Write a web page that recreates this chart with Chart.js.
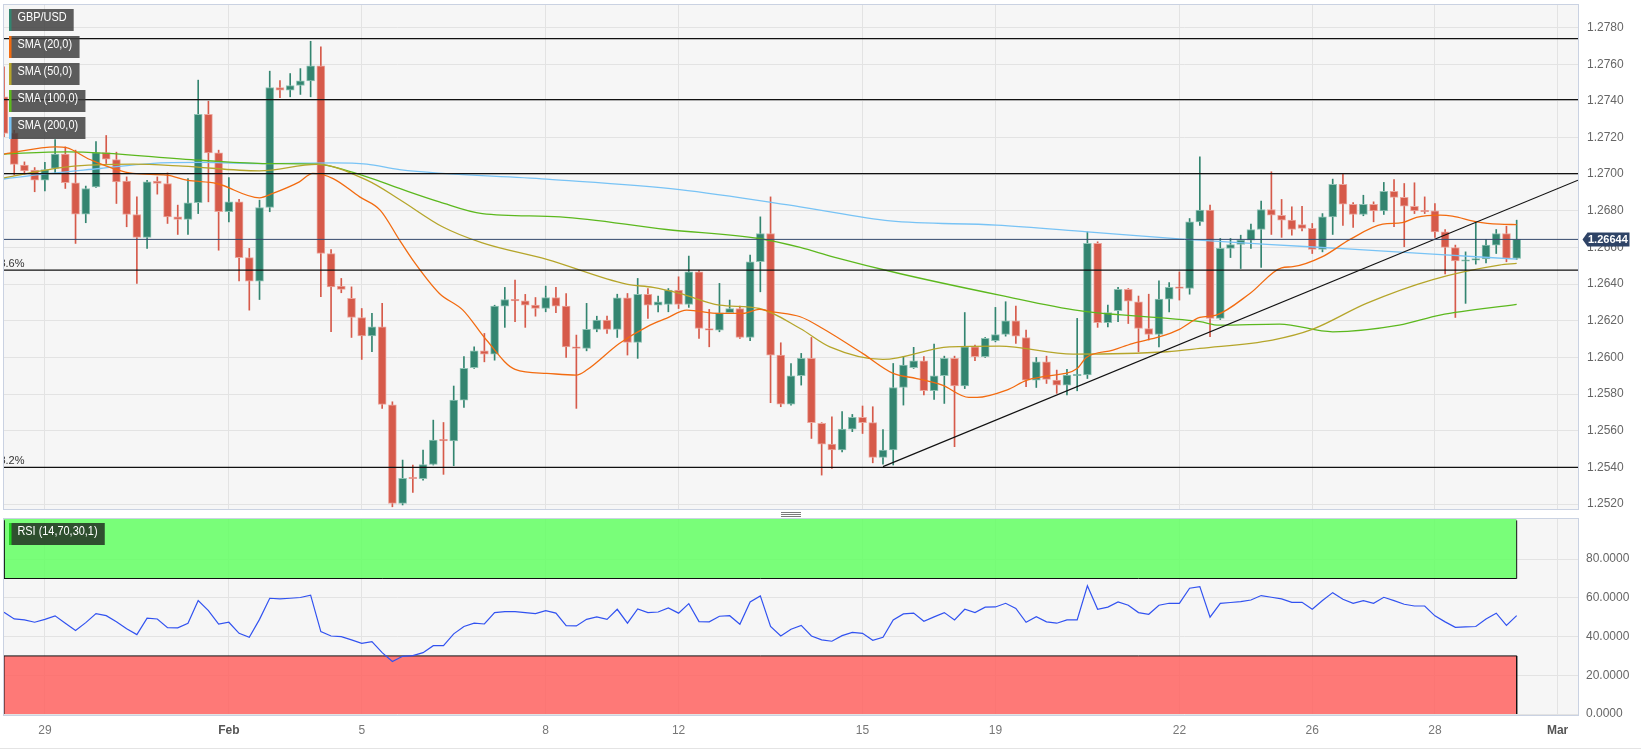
<!DOCTYPE html>
<html>
<head>
<meta charset="utf-8">
<script src="https://cdn.jsdelivr.net/npm/chart.js@4/dist/chart.umd.min.js"></script>
<style>
  body { margin: 0; background: #fff; }
  #wrap { position: relative; width: 1641px; height: 752px; overflow: hidden; background: #fff; }
  canvas { position: absolute; left: 0; }
  .lg { position: absolute; left: 9px; height: 22px; line-height: 22px; padding: 0 8.5px 0 7px;
        background: rgba(62,62,62,0.84); color: #fff;
        font: 13px "Liberation Sans", Arial, sans-serif;
        border-left: 3.5px solid #338570; white-space: nowrap;
        transform: scaleX(0.84); transform-origin: 0 0; }
  .hd { position: absolute; left: 781px; width: 20px; height: 1px; background: #7a7a7a; }
</style>
</head>
<body>
<div id="wrap">
  <canvas id="main" width="1641" height="512" style="top:0"></canvas>
  <canvas id="rsi" width="1641" height="240" style="top:512px"></canvas>
  <div class="lg" style="top:9px;border-left-color:#338570">GBP/USD</div>
  <div class="lg" style="top:36px;border-left-color:#f26b10">SMA (20,0)</div>
  <div class="lg" style="top:63px;border-left-color:#b5a52a">SMA (50,0)</div>
  <div class="lg" style="top:90px;border-left-color:#5cb81e">SMA (100,0)</div>
  <div class="lg" style="top:117px;border-left-color:#78c3f5">SMA (200,0)</div>
  <div class="lg" style="top:523px;border-left-color:#1fd21f;background:rgba(30,40,30,0.82)">RSI (14,70,30,1)</div>
  <div class="hd" style="top:512px"></div>
  <div class="hd" style="top:514px"></div>
  <div class="hd" style="top:516px"></div>
  <div style="position:absolute;left:0;top:748px;width:1641px;height:1px;background:#e4e4e4"></div>
</div>
<script>
// 4h candles, index 0 = first visible bar
const opens = [1.27422,1.27225,1.27049,1.27022,1.26967,1.27031,1.27109,1.26953,1.26782,1.26931,
  1.27118,1.27080,1.26962,1.26780,1.26655,1.26962,1.26949,1.26767,1.26753,1.26844,
  1.27327,1.27116,1.26795,1.26849,1.26545,1.26416,1.26818,1.27473,1.27458,1.27484,
  1.27509,1.27591,1.26567,1.26389,1.26322,1.26218,1.26118,1.26167,1.25742,1.25204,
  1.25345,1.25338,1.25416,1.25550,1.25545,1.25767,1.25944,1.26036,1.26018,1.26280,
  1.26316,1.26309,1.26285,1.26267,1.26327,1.26280,1.26058,1.26049,1.26153,1.26204,
  1.26153,1.26325,1.26082,1.26344,1.26285,1.26289,1.26367,1.26289,1.26467,1.26158,
  1.26149,1.26244,1.26267,1.26109,1.26522,1.26676,1.26013,1.25745,1.25900,1.25995,
  1.25640,1.25527,1.25495,1.25609,1.25673,1.25644,1.25455,1.25495,1.25836,1.25944,
  1.25982,1.25818,1.25900,1.25995,1.25844,1.26058,1.26004,1.26091,1.26125,1.26200,
  1.26109,1.25876,1.25976,1.25876,1.25849,1.25900,1.25904,1.26622,1.26189,1.26255,
  1.26371,1.26304,1.26158,1.26125,1.26318,1.26385,1.26376,1.26740,1.26804,1.26213,
  1.26595,1.26616,1.26640,1.26698,1.26807,1.26776,1.26749,1.26725,1.26704,1.26589,
  1.26767,1.26944,1.26836,1.26780,1.26835,1.26800,1.26907,1.26873,1.26825,1.26800,
  1.26800,1.26685,1.26600,1.26525,1.26531,1.26538,1.26613,1.26676,1.26540];
const highs = [1.27585,1.27240,1.27067,1.27036,1.27064,1.27189,1.27149,1.27131,1.26935,1.27178,
  1.27211,1.27120,1.26985,1.26876,1.26967,1.26985,1.27007,1.26831,1.26976,1.27513,
  1.27398,1.27131,1.26982,1.26862,1.26595,1.26858,1.27562,1.27511,1.27549,1.27576,
  1.27725,1.27695,1.26589,1.26431,1.26385,1.26267,1.26240,1.26295,1.25758,1.25440,
  1.25413,1.25495,1.25658,1.25645,1.25844,1.26004,1.26058,1.26131,1.26285,1.26382,
  1.26422,1.26344,1.26327,1.26389,1.26382,1.26349,1.26122,1.26295,1.26225,1.26225,
  1.26345,1.26349,1.26431,1.26376,1.26335,1.26376,1.26440,1.26553,1.26475,1.26262,
  1.26404,1.26313,1.26280,1.26558,1.26767,1.26876,1.26080,1.25967,1.26022,1.26109,
  1.25644,1.25676,1.25704,1.25689,1.25735,1.25731,1.25607,1.25967,1.26004,1.26055,
  1.26004,1.26073,1.26007,1.26007,1.26245,1.26067,1.26109,1.26273,1.26304,1.26280,
  1.26149,1.26000,1.26007,1.25931,1.25935,1.26213,1.26685,1.26631,1.26285,1.26382,
  1.26376,1.26335,1.26345,1.26418,1.26409,1.26467,1.26758,1.27095,1.26831,1.26649,
  1.26649,1.26667,1.26727,1.26853,1.27013,1.26862,1.26822,1.26825,1.26731,1.26785,
  1.26973,1.27000,1.26845,1.26885,1.26849,1.26955,1.26971,1.26949,1.26953,1.26876,
  1.26840,1.26698,1.26613,1.26576,1.26740,1.26644,1.26698,1.26716,1.26749];
const lows = [1.27204,1.26995,1.27000,1.26904,1.26909,1.27007,1.26922,1.26622,1.26735,1.26927,
  1.27058,1.26840,1.26713,1.26404,1.26595,1.26891,1.26731,1.26671,1.26671,1.26785,
  1.26849,1.26585,1.26740,1.26418,1.26258,1.26316,1.26795,1.27418,1.27422,1.27435,
  1.27422,1.26331,1.26140,1.26353,1.26109,1.25989,1.26031,1.25722,1.25185,1.25195,
  1.25264,1.25330,1.25413,1.25362,1.25409,1.25727,1.25940,1.25976,1.25985,1.26164,
  1.26195,1.26164,1.26225,1.26249,1.26244,1.26000,1.25722,1.26036,1.26140,1.26131,
  1.26109,1.26013,1.25995,1.26213,1.26249,1.26249,1.26267,1.26273,1.26104,1.26058,
  1.26140,1.26240,1.26104,1.26091,1.26358,1.25753,1.25731,1.25740,1.25849,1.25558,
  1.25358,1.25395,1.25485,1.25595,1.25585,1.25425,1.25418,1.25413,1.25740,1.25940,
  1.25795,1.25771,1.25749,1.25513,1.25830,1.25982,1.26000,1.26085,1.26116,1.26076,
  1.25840,1.25836,1.25858,1.25804,1.25795,1.25818,1.25885,1.26164,1.26167,1.26195,
  1.26185,1.26031,1.26095,1.26058,1.26249,1.26313,1.26345,1.26720,1.26113,1.26207,
  1.26545,1.26485,1.26595,1.26491,1.26671,1.26655,1.26667,1.26690,1.26567,1.26576,
  1.26671,1.26720,1.26709,1.26773,1.26740,1.26780,1.26713,1.26604,1.26785,1.26785,
  1.26655,1.26455,1.26218,1.26295,1.26509,1.26516,1.26567,1.26522,1.26535];
const closes = [1.27222,1.27053,1.27018,1.26967,1.27025,1.27109,1.26953,1.26782,1.26922,1.27118,
  1.27082,1.26958,1.26780,1.26655,1.26958,1.26949,1.26767,1.26753,1.26844,1.27327,
  1.27116,1.26795,1.26849,1.26545,1.26416,1.26818,1.27473,1.27458,1.27484,1.27509,
  1.27591,1.26567,1.26385,1.26371,1.26218,1.26118,1.26167,1.25744,1.25204,1.25340,
  1.25338,1.25416,1.25549,1.25545,1.25767,1.25940,1.26036,1.26018,1.26280,1.26316,
  1.26309,1.26285,1.26267,1.26327,1.26280,1.26058,1.26049,1.26153,1.26204,1.26153,
  1.26325,1.26082,1.26344,1.26285,1.26304,1.26367,1.26289,1.26467,1.26158,1.26149,
  1.26244,1.26267,1.26109,1.26522,1.26676,1.26013,1.25745,1.25900,1.25995,1.25644,
  1.25527,1.25495,1.25609,1.25673,1.25644,1.25455,1.25495,1.25836,1.25958,1.25982,
  1.25818,1.25900,1.25995,1.25844,1.26058,1.26004,1.26104,1.26125,1.26200,1.26116,
  1.25876,1.25976,1.25880,1.25849,1.25904,1.25904,1.26622,1.26189,1.26245,1.26371,
  1.26307,1.26158,1.26125,1.26318,1.26382,1.26376,1.26740,1.26804,1.26213,1.26595,
  1.26616,1.26640,1.26698,1.26807,1.26776,1.26749,1.26698,1.26704,1.26589,1.26767,
  1.26944,1.26836,1.26780,1.26835,1.26800,1.26907,1.26873,1.26825,1.26800,1.26795,
  1.26685,1.26600,1.26527,1.26530,1.26538,1.26613,1.26676,1.26540,1.26644];

// moving averages at bar positions
const sma20At = [-0.1,5.1,6.1,8.4,12.6,15.9,17.9,20.8,25,26.3,28.9,30.2,32.2,34.8,36.8,38.7,40,42.6,44.9,47.2,
  50,53.1,56,57,60.2,62.9,64.8,66.8,70,72.3,73.9,75.2,77.9,80.1,84,87,89.3,91.8,94.4,95.2,
  98.1,100.1,102,105,105.9,108.5,110.4,113.1,115,117,118.6,121.9,125,126.1,129,131.7,134.9,136.8,138.2,140.5,
  141.7,144.1,146.3,148];
const sma20 = [1.27109,1.27149,1.27145,1.27080,1.27004,1.26995,1.26967,1.26949,1.26871,1.26895,1.26958,1.27004,1.26976,1.26876,1.26804,1.26640,1.26531,1.26349,1.26258,1.26095,
  1.25935,1.25913,1.25904,1.25931,1.26076,1.26167,1.26213,1.26258,1.26240,1.26240,1.26262,1.26249,1.26222,1.26158,1.26022,1.25913,1.25885,1.25849,1.25782,1.25782,
  1.25822,1.25876,1.25898,1.25940,1.26000,1.26040,1.26076,1.26113,1.26153,1.26218,1.26231,1.26349,1.26489,1.26495,1.26550,1.26644,1.26727,1.26735,1.26764,1.26776,
  1.26771,1.26740,1.26727,1.26725];
const sma50At = [-0.4,6.2,12.6,17.5,25,30.6,35.5,38.7,42.9,46.8,53.1,60.9,63.5,66.1,70,73.9,77.9,80.8,86,92.5,
  97.4,104.6,113.8,117,124.1,128,133.3,139.8,146.3,148];
const sma50 = [1.26976,1.27040,1.27055,1.27044,1.27018,1.27053,1.26967,1.26862,1.26713,1.26625,1.26535,1.26400,1.26382,1.26349,1.26285,1.26267,1.26158,1.26058,1.25989,1.26058,
  1.26062,1.26018,1.26031,1.26049,1.26095,1.26153,1.26295,1.26425,1.26504,1.26513];
const sma100At = [-0.4,6.2,19.2,25.7,30.6,35.5,38.7,42.6,46.8,54.4,64.8,73.9,77.9,81.1,87.6,97.4,105.2,117,118.9,124.8,
  130,136.5,140.5,148];
const sma100 = [1.27109,1.27122,1.27076,1.27058,1.27055,1.26985,1.26922,1.26849,1.26785,1.26767,1.26698,1.26649,1.26600,1.26549,1.26458,1.26340,1.26255,1.26195,1.26176,1.26182,
  1.26140,1.26176,1.26231,1.26289];
const sma200At = [-0.4,4.5,9.4,14.3,19.2,25.7,32.2,35.5,38.7,53.1,66.1,77.9,86.7,97.1,106,115.3,127.7,139.8,148];
const sma200 = [1.26971,1.27004,1.27031,1.27058,1.27064,1.27058,1.27062,1.27055,1.27025,1.26973,1.26916,1.26822,1.26745,1.26722,1.26685,1.26645,1.26604,1.26564,1.26536];

const levels = [1.2774, 1.27407, 1.27003, 1.26476, 1.2540];
const fibLevels = [1.26476, 1.2540];
const fibLabels = ['23.6%', '38.2%'];
const lastPrice = 1.26644;
const trendAt = [86, 154];
const trend = [1.25404, 1.26967];

const rsi = [52.6,49.1,48.6,47.4,48.9,50.7,46.9,43.1,47.2,51.9,
  50.8,47.7,44.0,41.0,49.5,49.1,44.6,44.5,46.9,58.6,
  53.4,46.4,47.4,41.7,39.6,48.9,59.8,59.5,59.8,60.2,
  61.4,42.6,40.3,40.0,38.3,36.5,37.4,31.7,27.1,29.8,
  30.2,31.7,35.3,35.3,41.4,45.2,46.9,46.5,52.4,52.9,
  52.9,52.4,51.9,53.4,52.1,45.7,45.5,48.9,50.2,48.9,
  54.1,46.9,54.3,52.4,52.7,54.8,52.1,57.0,47.7,47.6,
  50.5,50.8,46.4,57.9,61.0,45.2,40.3,43.8,45.8,40.3,
  38.3,37.6,40.5,42.2,41.7,38.1,39.6,48.6,51.7,52.1,
  47.9,50.2,52.4,48.6,54.1,52.4,55.2,55.3,57.2,54.5,
  47.4,50.3,47.6,46.9,48.6,48.6,66.2,54.1,55.2,57.9,
  56.2,52.4,51.5,56.2,57.2,57.2,65.0,65.8,50.0,57.2,
  57.6,58.1,58.9,61.2,60.3,59.5,57.7,57.7,54.1,58.6,
  62.7,59.3,57.2,58.6,57.2,60.3,58.6,56.7,55.8,55.8,
  50.7,47.6,44.8,45.0,45.2,49.1,52.1,45.8,50.8];
const rsiHigh = 70, rsiLow = 30;

const dayIdx = [4, 22, 35, 53, 66, 84, 97, 115, 128, 140, 152];
const dayLabels = ['29', 'Feb', '5', '8', '12', '15', '19', '22', '26', '28', 'Mar'];
const priceTicks = [1.2520,1.2540,1.2560,1.2580,1.2600,1.2620,1.2640,1.2660,1.2680,1.2700,1.2720,1.2740,1.2760,1.2780];
const rsiTicks = [0, 20, 40, 60, 80];

const GREEN = '#338570', RED = '#d65a4a';
const FONT = '"Liberation Sans", Arial, sans-serif';
Chart.defaults.font.family = FONT;
Chart.defaults.font.size = 12;

const lastIdx = closes.length - 1;
const up = i => closes[i] >= opens[i];
const pts = (xs, ys) => xs.map((x, k) => ({ x: x, y: ys[k] }));

const panel = {
  id: 'panel',
  beforeDraw(chart) {
    const a = chart.chartArea, c = chart.ctx;
    c.save();
    c.fillStyle = '#f6f6f6';
    c.fillRect(a.left, a.top, a.right - a.left, a.bottom - a.top);
    c.restore();
  },
  afterDraw(chart) {
    const a = chart.chartArea, c = chart.ctx;
    c.save();
    c.strokeStyle = '#cad2e2';
    c.lineWidth = 1;
    c.strokeRect(Math.round(a.left) - 0.5, Math.round(a.top) - 0.5, Math.round(a.right - a.left) + 1, Math.round(a.bottom - a.top) + 1);
    c.restore();
  }
};

const marks = {
  id: 'marks',
  afterDraw(chart) {
    const a = chart.chartArea, c = chart.ctx, ys = chart.scales.y;
    c.save();
    c.beginPath();
    c.rect(a.left, a.top, a.right - a.left, a.bottom - a.top);
    c.clip();
    c.fillStyle = '#333';
    c.font = '11px ' + FONT;
    c.textAlign = 'right';
    c.textBaseline = 'bottom';
    fibLevels.forEach((v, k) => c.fillText(fibLabels[k], 24.5, ys.getPixelForValue(v) - 1));
    c.restore();

    // last price tag
    const y = ys.getPixelForValue(lastPrice);
    const x0 = a.right + 4.5;
    c.save();
    c.fillStyle = '#2e4366';
    c.beginPath();
    c.moveTo(x0, y);
    c.lineTo(x0 + 5, y - 7);
    c.lineTo(x0 + 47, y - 7);
    c.lineTo(x0 + 47, y + 7);
    c.lineTo(x0 + 5, y + 7);
    c.closePath();
    c.fill();
    c.fillStyle = '#fff';
    c.font = 'bold 11px ' + FONT;
    c.textAlign = 'left';
    c.textBaseline = 'middle';
    c.fillText(lastPrice.toFixed(5), x0 + 5.5, y + 0.5);
    c.restore();
  }
};

function hLine(v, color, w) {
  return { type: 'line', data: [{ x: 0, y: v }, { x: 154, y: v }], borderColor: color, borderWidth: w, pointRadius: 0 };
}
function smaLine(xs, ys, color) {
  return { type: 'line', data: pts(xs, ys), borderColor: color, borderWidth: 1.3, pointRadius: 0, cubicInterpolationMode: 'monotone' };
}

const idx = closes.map((_, i) => i);
const datasets = levels.map(v => hLine(v, '#111', 1.2));
datasets.push(hLine(lastPrice, '#33486b', 1));
datasets.push({ type: 'line', data: pts(trendAt, trend), borderColor: '#111', borderWidth: 1.2, pointRadius: 0 });
datasets.push(smaLine(sma20At, sma20, '#f26b10'));
datasets.push(smaLine(sma50At, sma50, '#b5a52a'));
datasets.push(smaLine(sma100At, sma100, '#5cb81e'));
datasets.push(smaLine(sma200At, sma200, '#78c3f5'));
datasets.push({
  type: 'bar', data: idx.map(i => ({ x: i, y: [opens[i], closes[i]] })),
  barThickness: 8, grouped: false, minBarLength: 1.5, borderSkipped: false, borderWidth: 1,
  backgroundColor: ctx => up(ctx.dataIndex) ? GREEN : RED,
  borderColor: ctx => up(ctx.dataIndex) ? '#8fc2b4' : '#eba79e'
});
datasets.push({
  type: 'bar', data: idx.map(i => ({ x: i, y: [lows[i], highs[i]] })),
  barThickness: 1, grouped: false, borderWidth: 0,
  backgroundColor: ctx => up(ctx.dataIndex) ? GREEN : RED
});

const xGrid = {
  type: 'linear', min: 0, max: 154, offset: false,
  grid: { color: '#e3e3e3', drawTicks: false, offset: false },
  border: { display: false },
  afterBuildTicks: s => { s.ticks = dayIdx.map(v => ({ value: v })); }
};

new Chart(document.getElementById('main'), {
  type: 'bar',
  data: { datasets: datasets },
  options: {
    responsive: false, animation: false, events: [],
    layout: { padding: { left: 4, top: 5, right: 0, bottom: 0 } },
    plugins: { legend: { display: false }, tooltip: { enabled: false } },
    scales: {
      x: Object.assign({}, xGrid, {
        ticks: { display: false },
        afterFit: s => { s.height = 3; s.paddingLeft = 0; s.paddingRight = 0; }
      }),
      y: {
        position: 'right', min: 1.25173, max: 1.27923,
        grid: { color: '#e3e3e3', drawTicks: false },
        border: { display: false },
        ticks: { padding: 9, color: '#666', callback: v => v.toFixed(4) },
        afterBuildTicks: s => { s.ticks = priceTicks.map(v => ({ value: v })); },
        afterFit: s => { s.width = 63; s.paddingTop = 0; s.paddingBottom = 0; }
      }
    }
  },
  plugins: [panel, marks]
});

new Chart(document.getElementById('rsi'), {
  type: 'line',
  data: {
    datasets: [
      { data: rsi.map((v, i) => ({ x: i, y: v })), borderColor: '#3152f0', borderWidth: 1.2, pointRadius: 0 },
      { data: [{ x: 0, y: 100 }, { x: 0, y: rsiHigh }, { x: lastIdx, y: rsiHigh }, { x: lastIdx, y: 100 }],
        borderColor: '#111', borderWidth: 1, pointRadius: 0, fill: 'end', backgroundColor: 'rgba(100,255,100,0.86)' },
      { data: [{ x: 0, y: 0 }, { x: 0, y: rsiLow }, { x: lastIdx, y: rsiLow }, { x: lastIdx, y: 0 }],
        borderColor: '#111', borderWidth: 1, pointRadius: 0, fill: 'start', backgroundColor: 'rgba(255,100,98,0.86)' }
    ]
  },
  options: {
    responsive: false, animation: false, events: [],
    layout: { padding: { left: 4, top: 6.5, right: 0, bottom: 0 } },
    plugins: { legend: { display: false }, tooltip: { enabled: false } },
    scales: {
      x: Object.assign({}, xGrid, {
        ticks: {
          padding: 9, maxRotation: 0, autoSkip: false,
          color: ctx => isNaN(dayLabels[ctx.index]) ? '#555' : '#777',
          font: ctx => ({ size: 12, weight: isNaN(dayLabels[ctx.index]) ? 'bold' : 'normal' }),
          callback: (v, k) => dayLabels[k]
        },
        afterFit: s => { s.height = 38; s.paddingLeft = 0; s.paddingRight = 0; }
      }),
      y: {
        position: 'right', min: 0, max: 101,
        grid: { color: '#e3e3e3', drawTicks: false },
        border: { display: false },
        ticks: { padding: 8, color: '#666', callback: v => v.toFixed(4) },
        afterBuildTicks: s => { s.ticks = rsiTicks.map(v => ({ value: v })); },
        afterFit: s => { s.width = 63; s.paddingTop = 0; s.paddingBottom = 0; }
      }
    }
  },
  plugins: [panel]
});
</script>
</body>
</html>
